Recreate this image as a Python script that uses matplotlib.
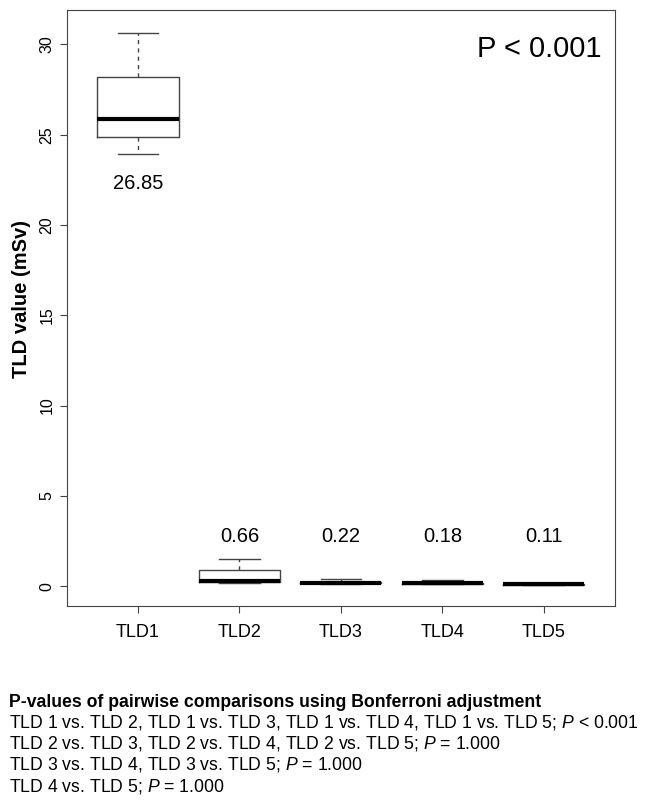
import matplotlib
matplotlib.use("Agg")
import matplotlib.pyplot as plt

plt.rcParams['font.family'] = ['Liberation Sans', 'DejaVu Sans']
plt.rcParams['mathtext.fontset'] = 'custom'
plt.rcParams['mathtext.rm'] = 'Liberation Sans'
plt.rcParams['mathtext.it'] = 'Liberation Sans:italic'

groups = ["TLD1", "TLD2", "TLD3", "TLD4", "TLD5"]
whislo = [23.95, 0.2, 0.12, 0.1, 0.08]
q1 = [24.9, 0.25, 0.15, 0.13, 0.09]
med = [25.85, 0.27, 0.19, 0.16, 0.1]
q3 = [28.2, 0.88, 0.22, 0.18, 0.11]
whishi = [30.65, 1.48, 0.38, 0.35, 0.12]
means = ["26.85", "0.66", "0.22", "0.18", "0.11"]
label_y = [22.0, 2.43, 2.43, 2.43, 2.43]

header = "P-values of pairwise comparisons using Bonferroni adjustment"
footer = [
    "TLD 1 vs. TLD 2, TLD 1 vs. TLD 3, TLD 1 vs. TLD 4, TLD 1 vs. TLD 5; $\\mathit{P}$ < 0.001",
    "TLD 2 vs. TLD 3, TLD 2 vs. TLD 4, TLD 2 vs. TLD 5; $\\mathit{P}$ = 1.000",
    "TLD 3 vs. TLD 4, TLD 3 vs. TLD 5; $\\mathit{P}$ = 1.000",
    "TLD 4 vs. TLD 5; $\\mathit{P}$ = 1.000",
]

fig = plt.figure(figsize=(6.46, 8.01), dpi=100)
ax = fig.add_axes([0.1037, 0.2434, 0.848, 0.744])

stats = []
for i, g in enumerate(groups):
    stats.append(dict(label=g, whislo=whislo[i], q1=q1[i], med=med[i],
                      q3=q3[i], whishi=whishi[i], fliers=[]))

pos = list(range(1, len(groups) + 1))
ax.bxp(stats, positions=pos, widths=0.8, showfliers=False,
       boxprops=dict(color="#444444", linewidth=1.0),
       whiskerprops=dict(color="#444444", linewidth=1.0, linestyle=(0, (3, 3))),
       capprops=dict(color="#444444", linewidth=1.0),
       medianprops=dict(color="black", linewidth=3.0),
       capwidths=0.4)

for i, m in enumerate(means):
    ax.text(pos[i], label_y[i], m, ha="center", va="baseline", fontsize=14.5)

ax.text(0.976, 0.921, "P < 0.001", transform=ax.transAxes, ha="right",
        va="baseline", fontsize=21)

ax.set_xlim(0.3, 5.7)
ax.set_ylim(-1.1, 31.9)
ax.set_yticks([0, 5, 10, 15, 20, 25, 30])
ax.set_yticklabels(["0", "5", "10", "15", "20", "25", "30"], rotation=90,
                   va="center", fontsize=11.5)
ax.tick_params(axis="x", labelsize=13, pad=8, length=5, color="#444444")
ax.tick_params(axis="y", length=5, pad=4, color="#444444")
ax.set_ylabel("TLD value (mSv)", fontsize=14.5, fontweight="bold")
ax.yaxis.set_label_coords(-0.066, 0.515)
for s in ax.spines.values():
    s.set_color("#444444")

fig.text(0.014, 1 - 707 / 801, header, fontsize=12.7, fontweight="bold",
         va="baseline")
for k, line in enumerate(footer):
    fig.text(0.014, 1 - (727 + 21.5 * k) / 801, line, fontsize=12.7,
             va="baseline")

fig.savefig("out.png", dpi=100)
